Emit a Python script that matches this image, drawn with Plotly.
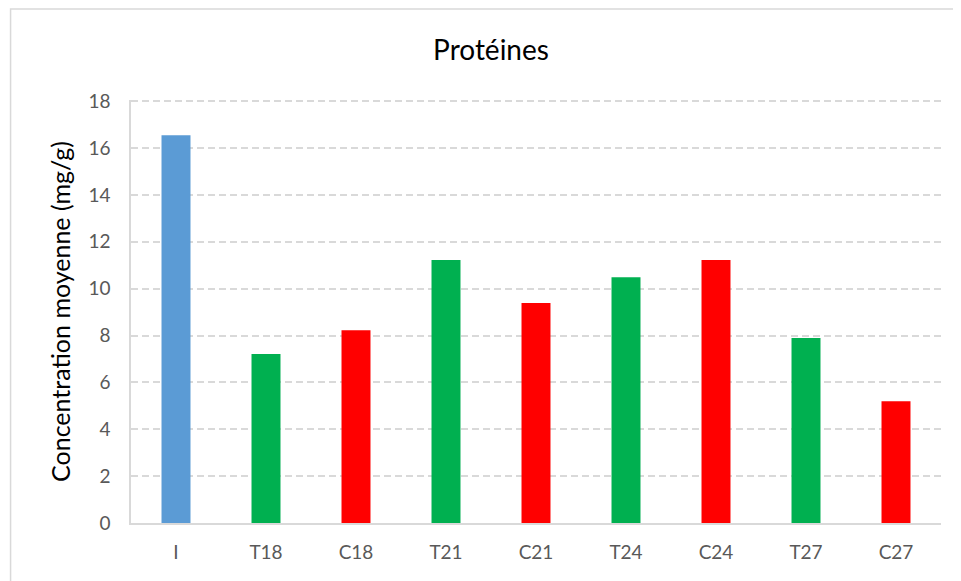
import plotly.graph_objects as go

categories = ["I", "T18", "C18", "T21", "C21", "T24", "C24", "T27", "C27"]
values = [16.55, 7.21, 8.23, 11.22, 9.39, 10.49, 11.22, 7.89, 5.2]
colors = ["#5B9BD5", "#00B050", "#FF0000", "#00B050", "#FF0000",
          "#00B050", "#FF0000", "#00B050", "#FF0000"]
y_ticks = [0, 2, 4, 6, 8, 10, 12, 14, 16, 18]

# page has an 8px body margin; build figure in figure coordinates
OFF = 8
W, H = 961 - OFF, 581 - OFF
px_per_unit = (523 - 101) / 18.0
ymax = 18.05
L = 130.5 - OFF
R = W - (941 - OFF)
B = H - (523 - OFF)
T = (101 - OFF) - (ymax - 18) * px_per_unit
pw, ph = W - L - R, H - T - B

fig = go.Figure(go.Bar(x=categories, y=values, marker=dict(color=colors, line=dict(width=0)),
                       hoverinfo="x+y"))

font_family = "Lato, 'Open Sans', sans-serif"


def px2paper_x(px):
    return (px - OFF - L) / pw


def px2paper_y(py):
    return (H - B - (py - OFF)) / ph


fig.update_layout(
    width=W, height=H,
    margin=dict(l=L, r=R, t=T, b=B, autoexpand=False),
    paper_bgcolor="white", plot_bgcolor="white",
    bargap=0.678,
    showlegend=False,
    title=dict(text="Protéines", x=(491 - OFF) / W, xanchor="center", xref="container",
               y=1 - (50 - OFF) / H, yanchor="middle", yref="container",
               font=dict(family=font_family, size=28, color="black")),
    font=dict(family=font_family),
    xaxis=dict(showgrid=False, showline=True, linecolor="#d9d9d9", linewidth=1.5,
               ticks="", tickfont=dict(size=19, color="#595959"), ticklabelstandoff=11,
               fixedrange=True),
    yaxis=dict(range=[0, ymax], tickvals=y_ticks, showgrid=True, gridcolor="#d9d9d9",
               griddash="7px,4px", gridwidth=1.5, zeroline=False,
               showline=True, linecolor="#d9d9d9", linewidth=1.5,
               ticks="", tickfont=dict(size=19, color="#595959"), ticklabelstandoff=15,
               title=dict(text="Concentration moyenne (mg/g)", standoff=11,
                          font=dict(size=25, color="black")),
               fixedrange=True),
    shapes=[dict(type="rect", xref="paper", yref="paper",
                 x0=px2paper_x(10), x1=px2paper_x(975),
                 y0=px2paper_y(595), y1=px2paper_y(8.75),
                 line=dict(color="#d9d9d9", width=1.5), fillcolor="rgba(0,0,0,0)",
                 layer="below")],
)

fig.write_html("out.html")
